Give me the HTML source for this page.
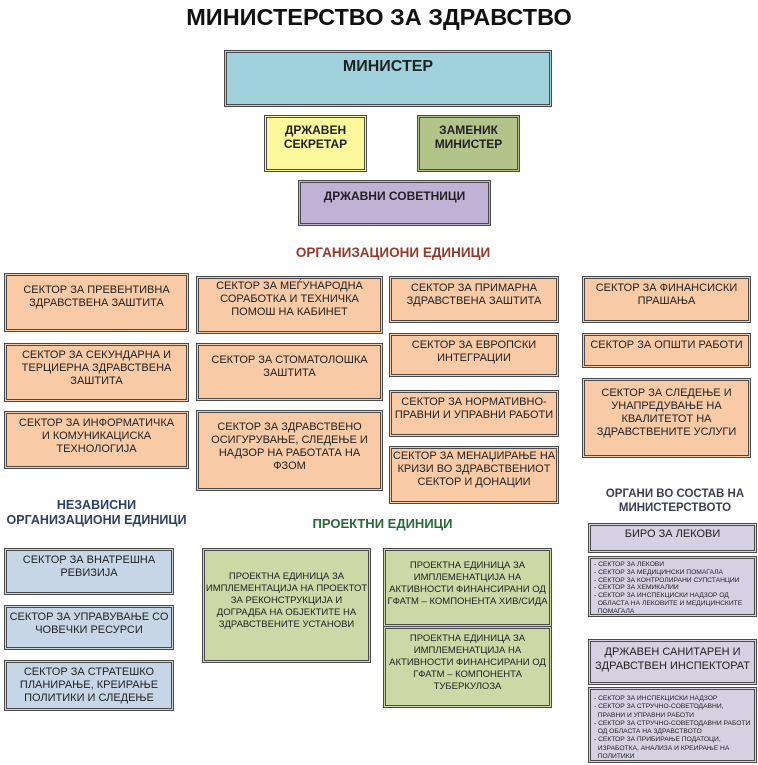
<!DOCTYPE html>
<html><head><meta charset="utf-8"><style>
body{margin:0;width:758px;height:765px;background:#fff;position:relative;overflow:hidden;font-family:"Liberation Sans",sans-serif;}
.b{position:absolute;box-sizing:border-box;border:3px double #4a4a4a;text-align:center;font-size:11px;line-height:13px;color:#222;padding-top:3px;}
.o{background:#f8caa6;}
.bl{background:#c7d6e6;}
.g{background:#ccd8a6;}
.l{background:#d6d0e3;}
.h{position:absolute;font-weight:bold;text-align:center;}
.lst{text-align:left;font-size:6.7px;line-height:7.8px;padding:3px 3px;white-space:nowrap;overflow:hidden;}
</style></head><body>
<div class="h" style="left:0;width:758px;top:4px;font-size:23.5px;color:#111">МИНИСТЕРСТВО ЗА ЗДРАВСТВО</div>
<div class="b" style="left:224px;top:50px;width:328px;height:57px;background:#9fd2dc;font-weight:bold;font-size:16px;line-height:18px;padding-top:5px">МИНИСТЕР</div>
<div class="b" style="left:264px;top:115px;width:103px;height:57px;background:#fbf99b;font-weight:bold;font-size:12px;line-height:14px;padding-top:5px">ДРЖАВЕН<br>СЕКРЕТАР</div>
<div class="b" style="left:417px;top:115px;width:103px;height:57px;background:#b3c48b;font-weight:bold;font-size:12px;line-height:14px;padding-top:5px">ЗАМЕНИК<br>МИНИСТЕР</div>
<div class="b" style="left:298px;top:180px;width:193px;height:46px;background:#c0b2d4;font-weight:bold;font-size:12px;padding-top:7px">ДРЖАВНИ СОВЕТНИЦИ</div>
<div class="h" style="left:200px;width:386px;top:245px;font-size:13.5px;color:#953a2a">ОРГАНИЗАЦИОНИ ЕДИНИЦИ</div>

<div class="b o" style="left:4px;top:273px;width:185px;height:59px;padding-top:8px">СЕКТОР ЗА ПРЕВЕНТИВНА<br>ЗДРАВСТВЕНА ЗАШТИТА</div>
<div class="b o" style="left:4px;top:343px;width:185px;height:59px">СЕКТОР ЗА СЕКУНДАРНА И<br>ТЕРЦИЕРНА ЗДРАВСТВЕНА<br>ЗАШТИТА</div>
<div class="b o" style="left:4px;top:411px;width:185px;height:58px">СЕКТОР ЗА ИНФОРМАТИЧКА<br>И КОМУНИКАЦИСКА<br>ТЕХНОЛОГИЈА</div>

<div class="b o" style="left:196px;top:276px;width:187px;height:58px;padding-top:1px">СЕКТОР ЗА МЕЃУНАРОДНА<br>СОРАБОТКА И ТЕХНИЧКА<br>ПОМОШ НА КАБИНЕТ</div>
<div class="b o" style="left:196px;top:343px;width:187px;height:58px;padding-top:8px">СЕКТОР ЗА СТОМАТОЛОШКА<br>ЗАШТИТА</div>
<div class="b o" style="left:196px;top:410px;width:187px;height:81px;padding-top:8px">СЕКТОР ЗА ЗДРАВСТВЕНО<br>ОСИГУРУВАЊЕ, СЛЕДЕЊЕ И<br>НАДЗОР НА РАБОТАТА НА<br>ФЗОМ</div>

<div class="b o" style="left:389px;top:276px;width:170px;height:47px">СЕКТОР ЗА ПРИМАРНА<br>ЗДРАВСТВЕНА ЗАШТИТА</div>
<div class="b o" style="left:389px;top:333px;width:170px;height:44px">СЕКТОР ЗА ЕВРОПСКИ<br>ИНТЕГРАЦИИ</div>
<div class="b o" style="left:389px;top:390px;width:170px;height:47px">СЕКТОР ЗА НОРМАТИВНО-<br>ПРАВНИ И УПРАВНИ РАБОТИ</div>
<div class="b o" style="left:389px;top:446px;width:170px;height:58px;padding-top:1px">СЕКТОР ЗА МЕНАЏИРАЊЕ НА<br>КРИЗИ ВО ЗДРАВСТВЕНИОТ<br>СЕКТОР И ДОНАЦИИ</div>

<div class="b o" style="left:582px;top:276px;width:169px;height:47px">СЕКТОР ЗА ФИНАНСИСКИ<br>ПРАШАЊА</div>
<div class="b o" style="left:582px;top:333px;width:169px;height:35px">СЕКТОР ЗА ОПШТИ РАБОТИ</div>
<div class="b o" style="left:582px;top:378px;width:169px;height:80px;padding-top:6px">СЕКТОР ЗА СЛЕДЕЊЕ И<br>УНАПРЕДУВАЊЕ НА<br>КВАЛИТЕТОТ НА<br>ЗДРАВСТВЕНИТЕ УСЛУГИ</div>

<div class="h" style="left:0;width:193px;top:498px;font-size:12.5px;line-height:15px;color:#2c3f66">НЕЗАВИСНИ<br>ОРГАНИЗАЦИОНИ ЕДИНИЦИ</div>
<div class="b bl" style="left:4px;top:548px;width:170px;height:47px">СЕКТОР ЗА ВНАТРЕШНА<br>РЕВИЗИЈА</div>
<div class="b bl" style="left:4px;top:605px;width:170px;height:45px">СЕКТОР ЗА УПРАВУВАЊЕ СО<br>ЧОВЕЧКИ РЕСУРСИ</div>
<div class="b bl" style="left:4px;top:660px;width:170px;height:51px">СЕКТОР ЗА СТРАТЕШКО<br>ПЛАНИРАЊЕ, КРЕИРАЊЕ<br>ПОЛИТИКИ И СЛЕДЕЊЕ</div>

<div class="h" style="left:260px;width:245px;top:516px;font-size:13px;color:#2a6a3a">ПРОЕКТНИ ЕДИНИЦИ</div>
<div class="b g" style="left:202px;top:548px;width:169px;height:115px;font-size:9.5px;line-height:12px;padding-top:20px">ПРОЕКТНА ЕДИНИЦА ЗА<br>ИМПЛЕМЕНТАЦИЈА НА ПРОЕКТОТ<br>ЗА РЕКОНСТРУКЦИЈА И<br>ДОГРАДБА НА ОБЈЕКТИТЕ НА<br>ЗДРАВСТВЕНИТЕ УСТАНОВИ</div>
<div class="b g" style="left:383px;top:548px;width:169px;height:79px;font-size:9.5px;line-height:12px;padding-top:9px">ПРОЕКТНА ЕДИНИЦА ЗА<br>ИМПЛЕМЕНАТЦИЈА НА<br>АКТИВНОСТИ ФИНАНСИРАНИ ОД<br>ГФАТМ – КОМПОНЕНТА ХИВ/СИДА</div>
<div class="b g" style="left:383px;top:626px;width:169px;height:82px;font-size:9.5px;line-height:12px;padding-top:4px">ПРОЕКТНА ЕДИНИЦА ЗА<br>ИМПЛЕМЕНАТЦИЈА НА<br>АКТИВНОСТИ ФИНАНСИРАНИ ОД<br>ГФАТМ – КОМПОНЕНТА<br>ТУБЕРКУЛОЗА</div>

<div class="h" style="left:592px;width:166px;top:487px;font-size:11.5px;line-height:14px;color:#3d3d52">ОРГАНИ ВО СОСТАВ НА<br>МИНИСТЕРСТВОТО</div>
<div class="b l" style="left:588px;top:523px;width:169px;height:30px;padding-top:2px">БИРО ЗА ЛЕКОВИ</div>
<div class="b l lst" style="left:588px;top:556px;width:169px;height:61px;padding-top:2px">- СЕКТОР ЗА ЛЕКОВИ<br>- СЕКТОР ЗА МЕДИЦИНСКИ ПОМАГАЛА<br>- СЕКТОР ЗА КОНТРОЛИРАНИ СУПСТАНЦИИ<br>- СЕКТОР ЗА ХЕМИКАЛИИ<br>- СЕКТОР ЗА ИНСПЕКЦИСКИ НАДЗОР ОД<br>&nbsp;&nbsp;ОБЛАСТА НА ЛЕКОВИТЕ И МЕДИЦИНСКИТЕ<br>&nbsp;&nbsp;ПОМАГАЛА</div>
<div class="b l" style="left:588px;top:639px;width:169px;height:46px;font-size:11px;line-height:14px">ДРЖАВЕН САНИТАРЕН И<br>ЗДРАВСТВЕН ИНСПЕКТОРАТ</div>
<div class="b l lst" style="left:588px;top:687px;width:169px;height:76px;padding-top:5px;line-height:8.3px">- СЕКТОР ЗА ИНСПЕКЦИСКИ НАДЗОР<br>- СЕКТОР ЗА СТРУЧНО-СОВЕТОДАВНИ,<br>&nbsp;&nbsp;ПРАВНИ И УПРАВНИ РАБОТИ<br>- СЕКТОР ЗА СТРУЧНО-СОВЕТОДАВНИ РАБОТИ<br>&nbsp;&nbsp;ОД ОБЛАСТА НА ЗДРАВСТВОТО<br>- СЕКТОР ЗА ПРИБИРАЊЕ ПОДАТОЦИ,<br>&nbsp;&nbsp;ИЗРАБОТКА, АНАЛИЗА И КРЕИРАЊЕ НА<br>&nbsp;&nbsp;ПОЛИТИКИ</div>
</body></html>
